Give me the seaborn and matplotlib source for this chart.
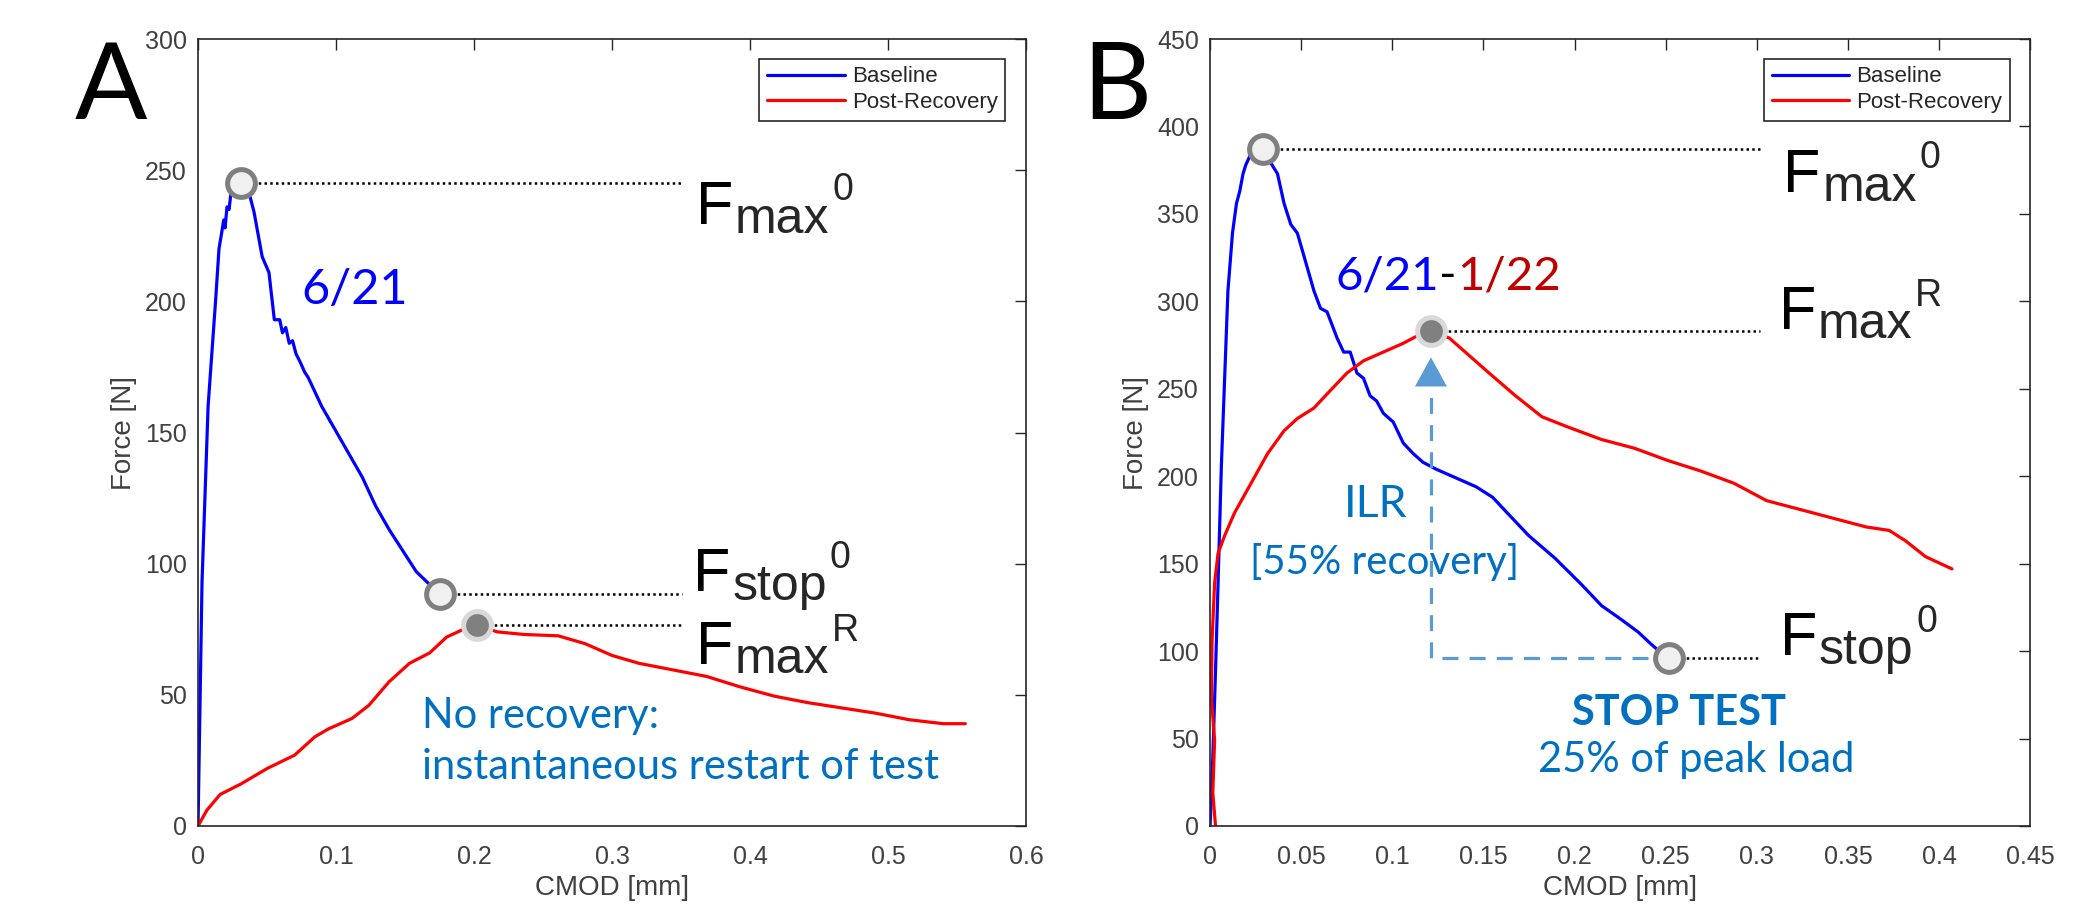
import numpy as np
import pandas as pd
import seaborn as sns
import matplotlib.pyplot as plt
from matplotlib.ticker import FuncFormatter

# ---------------- data ----------------
# Panel A: baseline 6/21, immediate restart
a_base_x = [0, 0.0029, 0.0073, 0.0127, 0.0152, 0.0171, 0.0186, 0.0196, 0.021, 0.0225, 0.024,
            0.0269, 0.0308, 0.0367, 0.0406, 0.0465, 0.0514, 0.0553, 0.0592, 0.0612, 0.0636,
            0.0661, 0.0685, 0.071, 0.0739, 0.0773, 0.0798, 0.0896, 0.0994, 0.1092, 0.119,
            0.1287, 0.1385, 0.1483, 0.1581, 0.1679, 0.175]
a_base_y = [0, 93, 160, 200, 220, 226, 231, 228, 236, 235, 242,
            244, 246, 242, 234, 217, 211, 193, 193, 188, 190,
            184, 185, 180, 177, 173, 171, 160, 151, 142, 133,
            122, 113, 105, 97, 92, 88.6]
a_post_x = [0, 0.0064, 0.016, 0.031, 0.0504, 0.07, 0.0847, 0.0945, 0.1116, 0.1238, 0.1385,
            0.1532, 0.1679, 0.1801, 0.1924, 0.2025, 0.2168, 0.2364, 0.2609, 0.2805, 0.30,
            0.3196, 0.3441, 0.3686, 0.393, 0.4175, 0.442, 0.4665, 0.491, 0.5154, 0.5399, 0.556]
a_post_y = [0, 6, 12, 16, 22, 27, 34, 37, 41, 46, 55,
            62, 66, 72, 75, 76.5, 74, 73, 72.5, 69.5, 65,
            62, 59.5, 57, 53, 49.5, 47, 45, 43, 40.5, 39, 39]

# Panel B: baseline 6/21, recovery 1/22
b_base_x = [0, 0.0015, 0.003, 0.0044, 0.0062, 0.008, 0.0098, 0.0123, 0.0145, 0.0163, 0.0181,
            0.0196, 0.0218, 0.0243, 0.029, 0.0334, 0.037, 0.0406, 0.0443, 0.0479, 0.0515,
            0.057, 0.0606, 0.0642, 0.0697, 0.0733, 0.0769, 0.0806, 0.0842, 0.0878, 0.0914,
            0.0951, 0.1005, 0.106, 0.1114, 0.1168, 0.1241, 0.135, 0.1459, 0.155, 0.164,
            0.1749, 0.1894, 0.2039, 0.2148, 0.2257, 0.2348, 0.242, 0.2475, 0.2518]
b_base_y = [0, 39, 89, 139, 206, 256, 306, 339, 356, 363, 373,
            378, 383, 386, 387, 379, 373, 356, 344, 339, 326,
            306, 296, 294, 279, 271, 271, 259, 256, 246, 243,
            236, 231, 219, 213, 208, 204, 199, 194, 188, 178,
            166, 153, 138, 126, 118, 111, 104, 99, 96]
b_post_x = [0.003, 0.0015, 0.0025, 0.0007, 0.0011, 0.0025, 0.0044, 0.008, 0.0134, 0.0225, 0.0316,
            0.0406, 0.0479, 0.057, 0.066, 0.0751, 0.0842, 0.0951, 0.106, 0.115, 0.1212,
            0.1313, 0.1422, 0.1531, 0.1676, 0.1821, 0.1967, 0.2148, 0.2329, 0.2511, 0.2692,
            0.2874, 0.3055, 0.3237, 0.3418, 0.36, 0.3727, 0.3817, 0.3926, 0.4071]
b_post_y = [0, 19, 49, 73, 106, 139, 156, 166, 179, 196, 213,
            226, 233, 239, 249, 259, 266, 271, 276, 281, 283,
            279, 269, 259, 246, 234, 228, 221, 216, 209, 203,
            196, 186, 181, 176, 171, 169, 163, 154, 147]

# key points (x, y) and the x where the dotted guide ends
a_fmax0, a_fstop0, a_fmaxr = (0.0308, 245), (0.175, 88.6), (0.2025, 76.5)
b_fmax0, b_fmaxr, b_fstop0 = (0.029, 387), (0.1212, 283), (0.2518, 96)
a_guide_end, b_guide_end = 0.351, 0.302

a_xticks = [0, 0.1, 0.2, 0.3, 0.4, 0.5, 0.6]
a_yticks = [0, 50, 100, 150, 200, 250, 300]
b_xticks = [0, 0.05, 0.1, 0.15, 0.2, 0.25, 0.3, 0.35, 0.4, 0.45]
b_yticks = [0, 50, 100, 150, 200, 250, 300, 350, 400, 450]

BLUE, RED = '#0000ff', '#ff0000'
NOTE = '#0070c0'
DARKRED = '#c00000'

sns.set_style('white')
plt.rcParams['font.family'] = ['Liberation Sans', 'DejaVu Sans']

fig = plt.figure(figsize=(20.91, 9.14), dpi=100)
axA = fig.add_axes([0.0947, 0.0963, 0.396, 0.861])
axB = fig.add_axes([0.5787, 0.0963, 0.3922, 0.861])


def style_axes(ax, xlim, ylim, xticks, yticks):
    ax.set_xlim(*xlim)
    ax.set_ylim(*ylim)
    ax.set_xticks(xticks)
    ax.set_yticks(yticks)
    fmt = FuncFormatter(lambda v, p: '{:g}'.format(round(v, 3)))
    ax.xaxis.set_major_formatter(fmt)
    ax.yaxis.set_major_formatter(fmt)
    ax.tick_params(direction='in', length=8, width=1, top=True, right=True,
                   colors='#262626', labelcolor='#404040', labelsize=18)
    ax.tick_params(axis='x', pad=14)
    ax.tick_params(axis='y', pad=8)
    for s in ax.spines.values():
        s.set_color('#262626')
        s.set_linewidth(1.2)
    ax.set_xlabel('CMOD [mm]', fontsize=20, color='#404040')
    ax.set_ylabel('Force [N]', fontsize=20, color='#404040')
    ax.xaxis.set_label_coords(0.5, -0.062)
    ax.yaxis.set_label_coords(-0.074, 0.5)


def curves(ax, bx, by, px, py):
    sns.lineplot(x=bx, y=by, ax=ax, color=BLUE, lw=2.3, sort=False, estimator=None, label='Baseline')
    sns.lineplot(x=px, y=py, ax=ax, color=RED, lw=2.3, sort=False, estimator=None, label='Post-Recovery')
    leg = ax.legend(loc='upper right', bbox_to_anchor=(0.975, 0.975), borderaxespad=0,
                    fontsize=16, handlelength=3.5, handletextpad=0.3, labelspacing=0.2,
                    borderpad=0.35, fancybox=False, framealpha=1, edgecolor='#262626')
    leg.get_frame().set_linewidth(1.2)
    for t in leg.get_texts():
        t.set_color('#262626')


def guide(ax, pt, xend, filled=False):
    ax.plot([pt[0], xend], [pt[1], pt[1]], color='black', lw=1.8, linestyle=(0, (1, 1.3)), zorder=4)
    if filled:
        ax.plot(*pt, 'o', ms=20, mfc='#808080', mec='#d9d9d9', mew=3.6, zorder=6)
    else:
        ax.plot(*pt, 'o', ms=20, mfc='#f0f0f0', mec='#7f7f7f', mew=3.6, zorder=6)


def f_label(ax, x, y, sub, sup):
    t = ax.text(x, y, 'F', fontsize=44, va='baseline', ha='left', color='black')
    s = ax.annotate(sub, xy=(1, 0), xycoords=t, xytext=(1, 0.21 * 44 - 6.5),
                    textcoords='offset points', fontsize=36, va='baseline', ha='left')
    ax.annotate(sup, xy=(1, 0), xycoords=s, xytext=(2, 0.21 * 36 + 6.5 + 16.5),
                textcoords='offset points', fontsize=27, va='baseline', ha='left')


# ---------------- panel A ----------------
curves(axA, a_base_x, a_base_y, a_post_x, a_post_y)
style_axes(axA, (0, 0.6), (0, 300), a_xticks, a_yticks)
guide(axA, a_fmax0, a_guide_end)
guide(axA, a_fstop0, a_guide_end)
guide(axA, a_fmaxr, a_guide_end, filled=True)
f_label(axA, 0.361, 229.6, 'max', '0')
f_label(axA, 0.359, 89.6, 'stop', '0')
f_label(axA, 0.361, 61.8, 'max', 'R')
axA.text(0.0749, 199, '6/21', fontsize=35, color=BLUE, family='Lato', va='baseline')
axA.text(0.162, 37.3, 'No recovery:', fontsize=30, color=NOTE, family='Lato', va='baseline')
axA.text(0.162, 18, 'instantaneous restart of test', fontsize=30, color=NOTE, family='Lato',
         va='baseline')

# ---------------- panel B ----------------
curves(axB, b_base_x, b_base_y, b_post_x, b_post_y)
style_axes(axB, (0, 0.45), (0, 450), b_xticks, b_yticks)
guide(axB, b_fmax0, b_guide_end)
guide(axB, b_fmaxr, b_guide_end, filled=True)
guide(axB, b_fstop0, b_guide_end)
f_label(axB, 0.3146, 362.7, 'max', '0')
f_label(axB, 0.312, 284.3, 'max', 'R')
f_label(axB, 0.3128, 97.7, 'stop', '0')

t1 = axB.text(0.069, 307, '6/21', fontsize=34, color=BLUE, family='Lato', va='baseline')
t2 = axB.annotate('-', xy=(1, 0), xycoords=t1, fontsize=34, color='black', family='Lato',
                  va='bottom', ha='left')
axB.annotate('1/22', xy=(1, 0), xycoords=t2, fontsize=34, color=DARKRED, family='Lato',
             va='bottom', ha='left')

# recovery arrow: stop point -> peak of post-recovery curve
axB.plot([0.2402, b_fmaxr[0], b_fmaxr[0]], [b_fstop0[1], b_fstop0[1], 251],
         color='#5b9bd5', lw=2.3, dashes=(5, 3.5), zorder=3)
axB.annotate('', xy=(b_fmaxr[0], 268), xytext=(b_fmaxr[0], 250),
             arrowprops=dict(arrowstyle='-|>,head_length=21,head_width=11.5', mutation_scale=1,
                             color='#5b9bd5', lw=0, shrinkA=0, shrinkB=0), zorder=3)

axB.text(0.0733, 176.7, 'ILR', fontsize=32, color=NOTE, family='Lato', va='baseline')
axB.text(0.0218, 144.3, '[55% recovery]', fontsize=29, color=NOTE, family='Lato', va='baseline')
axB.text(0.1985, 57.7, 'STOP TEST', fontsize=30, color=NOTE, family='Lato', weight='bold',
         va='baseline')
axB.text(0.180, 31, '25% of peak load', fontsize=30, color=NOTE, family='Lato', va='baseline')

# panel letters
fig.text(0.0359, 0.8698, 'A', fontsize=77, family='Lato', color='black', va='baseline')
fig.text(0.5175, 0.8698, 'B', fontsize=77, family='Lato', color='black', va='baseline')

fig.savefig('out.png', dpi=100)
